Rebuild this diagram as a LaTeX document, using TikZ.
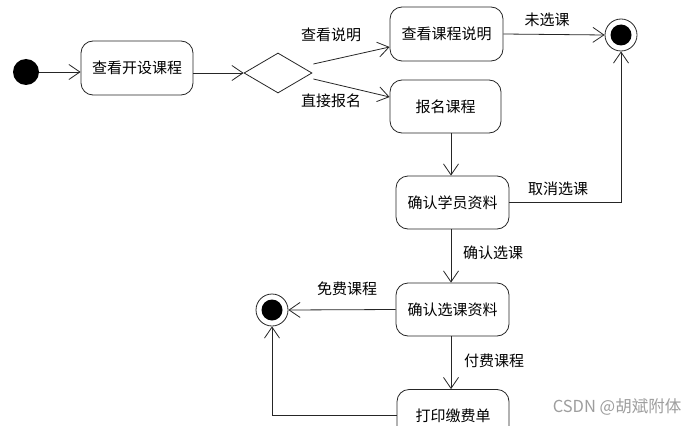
\documentclass[tikz,border=0pt]{standalone}
\usepackage{fontspec}
\setmainfont{Noto Sans CJK SC}
\usetikzlibrary{arrows.meta,shapes.geometric,calc}
\begin{document}
\begin{tikzpicture}[x=1pt,y=-1pt,
  line width=0.8pt,
  stbox/.style={draw=black!85, rounded corners=12pt, minimum width=113pt, minimum height=54pt, inner sep=0pt, font=\fontsize{15}{17}\selectfont},
  lbl/.style={font=\fontsize{15}{17}\selectfont, inner sep=0pt},
  arr/.style={draw=black!85, -{Straight Barb[length=11pt,width=15pt,line width=0.8pt]}},
  fin/.style={circle, draw=black!85, minimum size=32pt, inner sep=0pt}
]
\clip (0,0) rectangle (700,425);
\fill[white] (0,0) rectangle (700,425);
\coordinate (vx) at (451,0);
% nodes
\node[circle, fill=black, minimum size=26pt, inner sep=0pt] (init) at (26,72) {};
\node[stbox, minimum width=112pt] (b1) at (137,68) {查看开设课程};
\node[diamond, draw=black!85, minimum width=68pt, minimum height=40pt, inner sep=0pt] (d) at (278,73) {};
\node[stbox] (b2) at (446.5,34) {查看课程说明};
\node[stbox, minimum width=111pt, minimum height=53pt] (b3) at (445.5,106.5) {报名课程};
\node[stbox, minimum height=53pt] (b4) at (452.5,202.5) {确认学员资料};
\node[stbox, minimum height=53pt] (b5) at (452.5,309.5) {确认选课资料};
\node[stbox, minimum width=112pt, minimum height=53pt] (b6) at (453,416) {打印缴费单};
\node[fin] (f1) at (621,35) {};
\fill[black] (f1.center) circle (10.5pt);
\node[fin] (f2) at (272,310) {};
\fill[black] (f2.center) circle (10.5pt);
% connectors
\draw[arr] (init.east) -- (init.east -| b1.west);
\draw[arr] (b1.east |- d.west) -- (d.west);
\draw[arr] ($(d.east)+(1,-9)$) -- ($(b2.west)+(0,13)$);
\draw[arr] ($(d.east)+(1,6)$) -- ($(b3.west)+(0,-9.5)$);
\draw[arr] (b2.east) -- (f1.west);
\draw[arr] (b3.south -| vx) -- (b4.north -| vx);
\draw[arr] (b4.east) -| (f1.south);
\draw[arr] (b4.south -| vx) -- (b5.north -| vx);
\draw[arr] (b5.west) -- (f2.east);
\draw[arr] (b5.south -| vx) -- (b6.north -| vx);
\draw[arr] ($(b6.west)+(0,-1)$) -| (f2.south);
% labels
\node[lbl] (l1) at (331,35) {查看说明};
\node[lbl] (l2) at (331,101) {直接报名};
\node[lbl] (l3) at (547,20) {未选课};
\node[lbl] (l4) at (558,189) {取消选课};
\node[lbl] (l5) at (493,253) {确认选课};
\node[lbl] (l6) at (347,289) {免费课程};
\node[lbl] (l7) at (494,361) {付费课程};
\node[font=\fontsize{16.5}{18}\selectfont, text=black!38, inner sep=0pt] (wm) at (617,407) {CSDN @胡斌附体};
\end{tikzpicture}
\end{document}
